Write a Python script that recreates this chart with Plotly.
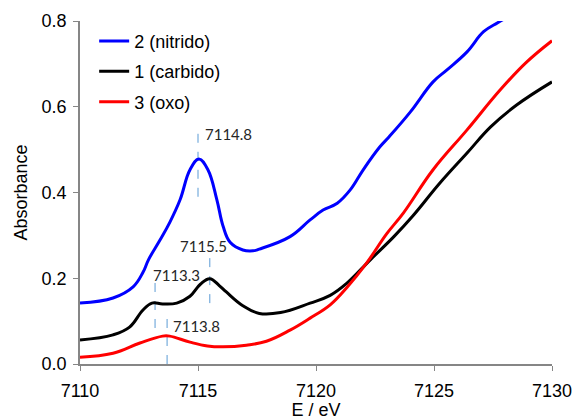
import plotly.graph_objects as go

# Carbido (1), black
e_carb = [7110, 7111.4, 7112.1, 7112.67, 7113.05, 7113.5, 7114.1, 7114.66, 7115.1, 7115.5, 7115.9,
          7116.2, 7116.9, 7117.6, 7118.5, 7119.75, 7120.6, 7121.3, 7122.3, 7123.3, 7124.1,
          7125.25, 7126.4, 7127.4, 7128.5, 7130]
a_carb = [0.056, 0.068, 0.086, 0.126, 0.142, 0.140, 0.142, 0.158, 0.186, 0.199, 0.183,
          0.168, 0.136, 0.118, 0.120, 0.142, 0.160, 0.188, 0.243, 0.297, 0.345,
          0.422, 0.492, 0.553, 0.604, 0.658]

# Nitrido (2), blue
e_nitr = [7110, 7111.4, 7112.25, 7112.67, 7112.9, 7113.39, 7113.81, 7114.24, 7114.66, 7115.04,
          7115.42, 7115.8, 7116.06, 7116.36, 7116.9, 7117.33, 7117.6, 7118.9, 7119.75, 7120.3,
          7120.9, 7121.45, 7122.0, 7122.7, 7123.1, 7124.0, 7124.96, 7125.55, 7126.4, 7127.1,
          7127.7, 7128.2]
a_nitr = [0.142, 0.154, 0.180, 0.214, 0.243, 0.289, 0.331, 0.383, 0.453, 0.478,
          0.453, 0.383, 0.322, 0.284, 0.266, 0.264, 0.268, 0.297, 0.336, 0.359,
          0.375, 0.406, 0.453, 0.506, 0.530, 0.588, 0.658, 0.686, 0.728, 0.775,
          0.796, 0.812]

# Oxo (3), red
e_oxo = [7110, 7111.4, 7112.54, 7113.5, 7113.8, 7114.66, 7115.4, 7116.06, 7117.05, 7117.9,
         7118.9, 7119.75, 7120.6, 7121.3, 7122.15, 7123.0, 7123.7, 7124.96, 7126.4, 7127.8,
         7128.9, 7130]
a_oxo = [0.016, 0.025, 0.049, 0.065, 0.065, 0.051, 0.042, 0.040, 0.044, 0.053,
         0.079, 0.107, 0.138, 0.178, 0.236, 0.304, 0.352, 0.453, 0.546, 0.639,
         0.703, 0.754]

# Peak markers: x position, dashed line bottom/top, label text, label position
peak_x = [7115.0, 7115.5, 7113.18, 7113.69]
peak_lo = [0.39, 0.142, 0.084, 0.0]
peak_hi = [0.54, 0.254, 0.20, 0.114]
peak_text = ["7114.8", "7115.5", "7113.3", "7113.8"]
label_x = [7115.2, 7114.15, 7113.0, 7113.85]
label_y = [0.537, 0.275, 0.208, 0.088]

fig = go.Figure()
for xp, lo, hi in zip(peak_x, peak_lo, peak_hi):
    fig.add_trace(go.Scatter(x=[xp, xp], y=[lo, hi], mode="lines",
                             line=dict(color="#5B9BD5", width=1, dash="dash"),
                             showlegend=False, hoverinfo="skip"))

line_style = dict(width=3, shape="spline", smoothing=1.15)
fig.add_trace(go.Scatter(x=e_nitr, y=a_nitr, mode="lines", name="2 (nitrido)", legendgroup="n",
                         line=dict(color="#0000FF", **line_style)))
fig.add_trace(go.Scatter(x=e_carb, y=a_carb, mode="lines", name="1 (carbido)", legendgroup="c",
                         line=dict(color="#000000", **line_style)))
fig.add_trace(go.Scatter(x=e_oxo, y=a_oxo, mode="lines", name="3 (oxo)", legendgroup="o",
                         line=dict(color="#FF0000", **line_style)))

for tx, lx, ly in zip(peak_text, label_x, label_y):
    fig.add_annotation(x=lx, y=ly, text=tx, showarrow=False, xanchor="left", yanchor="middle",
                       font=dict(family="Lato", size=15, color="#262626"))

axis_common = dict(showline=True, linecolor="#868686", linewidth=1.5, ticks="outside",
                   ticklen=5, tickcolor="#868686", showgrid=False, zeroline=False,
                   tickfont=dict(family="Liberation Sans", size=18, color="#000000"))

fig.update_layout(
    width=573, height=420,
    margin=dict(l=80, r=21, t=21, b=56),
    plot_bgcolor="white", paper_bgcolor="white",
    xaxis=dict(range=[7110, 7130], tickvals=[7110, 7115, 7120, 7125, 7130],
               ticklabelstandoff=5,
               title=dict(text="E / eV", font=dict(family="Liberation Sans", size=18, color="#000000"),
                          standoff=13),
               **axis_common),
    yaxis=dict(range=[0, 0.8], tickvals=[0, 0.2, 0.4, 0.6, 0.8], tickformat=".1f",
               ticklabelstandoff=3,
               title=dict(text="Absorbance", font=dict(family="Liberation Sans", size=18, color="#000000"),
                          standoff=9),
               **axis_common),
    legend=dict(x=0.03, y=0.995, xanchor="left", yanchor="top", bgcolor="rgba(0,0,0,0)",
                font=dict(family="Liberation Sans", size=18, color="#000000"), tracegroupgap=4),
    showlegend=True,
)
fig.update_xaxes(automargin=False)
fig.update_yaxes(automargin=False)

fig.write_html("out.html")
